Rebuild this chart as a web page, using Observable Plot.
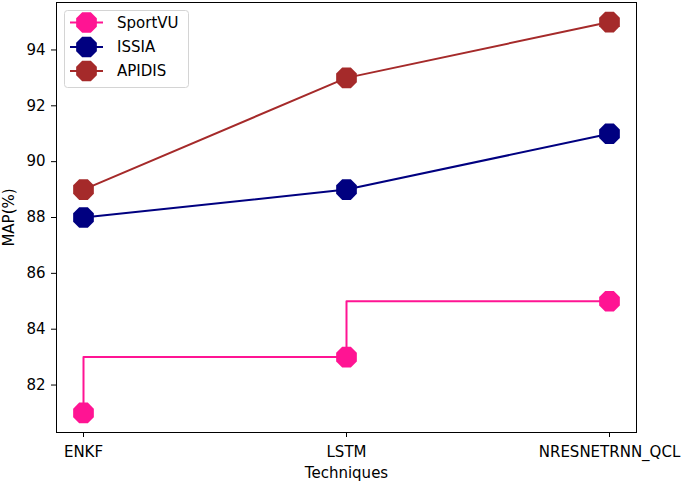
<!DOCTYPE html>
<html>
<head>
<meta charset="utf-8">
<script src="https://cdn.jsdelivr.net/npm/d3@7"></script>
<script src="https://cdn.jsdelivr.net/npm/@observablehq/plot@0.6"></script>
<style>
  html, body { margin: 0; padding: 0; background: #fff; }
  #wrap { position: relative; width: 685px; height: 484px; font-family: "DejaVu Sans", sans-serif; }
  #legend { position: absolute; left: 0; top: 0; }
</style>
</head>
<body>
<div id="wrap"></div>
<script>
const techniques = ["ENKF", "LSTM", "NRESNETRNN_QCL"];
const seriesNames = ["SportVU", "ISSIA", "APIDIS"];
const sportVU = [81, 83, 85];
const issia = [88, 89, 91];
const apidis = [89, 93, 95];
const colors = ["#ff1493", "#000080", "#a52a2a"];
const yTicks = [82, 84, 86, 88, 90, 92, 94];

const seriesValues = [sportVU, issia, apidis];
const data = seriesNames.flatMap((s, i) =>
  techniques.map((t, j) => ({series: s, technique: t, value: seriesValues[i][j]})));

const octagon = {
  draw(ctx, size) {
    const r = Math.sqrt(size / Math.PI);
    for (let i = 0; i < 8; i++) {
      const a = Math.PI / 8 + i * Math.PI / 4;
      const x = r * Math.cos(a), y = r * Math.sin(a);
      if (i === 0) ctx.moveTo(x, y); else ctx.lineTo(x, y);
    }
    ctx.closePath();
  }
};

const color = {domain: seriesNames, range: colors};

const chart = Plot.plot({
  width: 685,
  height: 484,
  marginLeft: 56,
  marginRight: 49,
  marginTop: 2,
  marginBottom: 52,
  style: {fontFamily: "DejaVu Sans, sans-serif", fontSize: "15px", color: "#000", background: "#fff"},
  x: {type: "point", domain: techniques, padding: 0.1},
  y: {domain: [80.3, 95.7]},
  color,
  marks: [
    Plot.axisX({tickSize: 5, tickPadding: 9, label: "Techniques", labelAnchor: "center", labelArrow: false, labelOffset: 45, fontSize: 15}),
    Plot.axisY({ticks: yTicks, tickSize: 5, tickPadding: 6, label: "MAP(%)", labelAnchor: "center", labelArrow: false, labelOffset: 53, fontSize: 15}),
    Plot.line(data.filter(d => d.series === "SportVU"), {x: "technique", y: "value", stroke: d => d.series, strokeWidth: 2, curve: "step-before"}),
    Plot.line(data.filter(d => d.series !== "SportVU"), {x: "technique", y: "value", z: "series", stroke: d => d.series, strokeWidth: 2}),
    Plot.dot(data, {x: "technique", y: "value", fill: d => d.series, symbol: octagon, r: 11.2, stroke: null}),
    Plot.frame({stroke: "#000", strokeWidth: 1})
  ]
});

const wrap = document.getElementById("wrap");
wrap.appendChild(chart);

// legend
const lg = d3.select(wrap).append("svg").attr("id", "legend")
  .attr("width", 685).attr("height", 484).style("pointer-events", "none");
lg.append("rect").attr("x", 64.5).attr("y", 10.5).attr("width", 124).attr("height", 77)
  .attr("rx", 3).attr("fill", "#fff").attr("fill-opacity", 0.8).attr("stroke", "#d4d4d4");
const rowY = [22.5, 47, 71];
seriesNames.forEach((s, i) => {
  const g = lg.append("g");
  g.append("line").attr("x1", 70).attr("x2", 103).attr("y1", rowY[i]).attr("y2", rowY[i])
    .attr("stroke", colors[i]).attr("stroke-width", 2);
  g.append("path").attr("transform", `translate(86.5,${rowY[i]})`)
    .attr("d", d3.symbol(octagon, Math.PI * 11.2 * 11.2)()).attr("fill", colors[i]);
  g.append("text").attr("x", 117).attr("y", rowY[i]).attr("dy", "0.35em")
    .attr("font-family", "DejaVu Sans, sans-serif").attr("font-size", 15).attr("fill", "#000").text(s);
});
</script>
</body>
</html>
